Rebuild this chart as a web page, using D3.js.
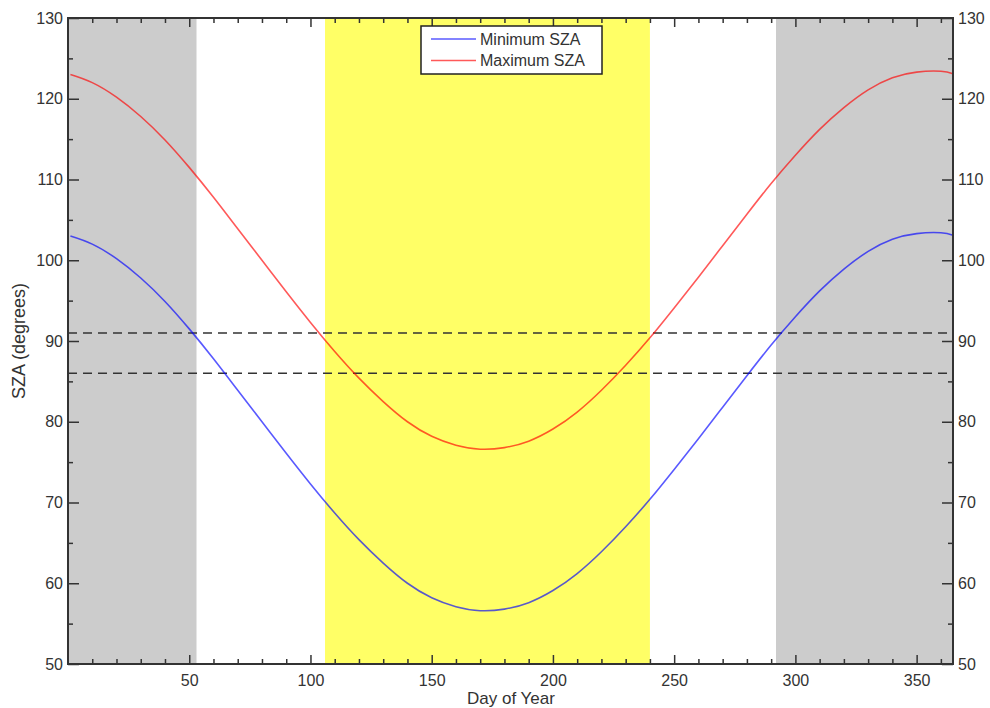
<!DOCTYPE html>
<html>
<head>
<meta charset="utf-8">
<script src="https://cdn.jsdelivr.net/npm/d3@7"></script>
<style>
  body { margin: 0; background: #fff; }
  svg text { font-family: "Liberation Sans", Arial, sans-serif; fill: #333; }
</style>
</head>
<body>
<svg id="chart" width="990" height="708"></svg>
<script>
// day of year samples
const days = [1, 10, 20, 30, 40, 50, 60, 70, 80, 90, 100, 110, 120, 130, 140, 150, 160, 170, 180,
  190, 200, 210, 220, 230, 240, 250, 260, 270, 280, 290, 300, 310, 320, 330, 340, 350, 360, 365]

// noon (minimum) solar zenith angle, degrees
const minSZA = [103.0, 102.0, 100.2, 97.8, 94.9, 91.5, 87.8, 83.9, 80.0, 76.1, 72.3, 68.7, 65.4, 62.5,
  60.0, 58.2, 57.1, 56.6, 56.8, 57.6, 59.1, 61.2, 63.9, 67.0, 70.4, 74.1, 77.9, 81.8, 85.7, 89.5,
  93.0, 96.2, 98.9, 101.1, 102.6, 103.3, 103.4, 103.1]

// midnight (maximum) solar zenith angle, degrees
const maxSZA = [123.0, 122.0, 120.2, 117.8, 114.9, 111.5, 107.8, 103.9, 100.0, 96.1, 92.3, 88.7, 85.4, 82.5,
  80.0, 78.2, 77.1, 76.6, 76.8, 77.6, 79.1, 81.2, 83.9, 87.0, 90.4, 94.1, 97.9, 101.8, 105.7, 109.5,
  113.0, 116.2, 118.9, 121.1, 122.6, 123.3, 123.4, 123.1]

// shaded periods [start day, end day]
const darkPeriods = [[0, 53], [292, 365]]
const lightPeriods = [[106, 240]]

// threshold lines
const thresholds = [91, 86]

const xTicks = [50, 100, 150, 200, 250, 300, 350]
const yTicks = [50, 60, 70, 80, 90, 100, 110, 120, 130]

const seriesNames = ['Minimum SZA', 'Maximum SZA']
const seriesColors = ['#0000ff', '#ff0000']

const pLeft = 68, pRight = 953, pTop = 18, pBottom = 664

const svg = d3.select('#chart')

const x = d3.scaleLinear().domain([0, 365]).range([pLeft, pRight])
const y = d3.scaleLinear().domain([50, 130]).range([pBottom, pTop])

// background bands
svg.selectAll('.dark')
    .data(darkPeriods)
    .enter()
    .append('rect')
    .attr('x', d => x(d[0]))
    .attr('y', pTop)
    .attr('width', d => x(d[1]) - x(d[0]))
    .attr('height', pBottom - pTop)
    .attr('fill', '#cccccc')

svg.selectAll('.light')
    .data(lightPeriods)
    .enter()
    .append('rect')
    .attr('x', d => x(d[0]))
    .attr('y', pTop)
    .attr('width', d => x(d[1]) - x(d[0]))
    .attr('height', pBottom - pTop)
    .attr('fill', '#ffff66')

// dashed thresholds
svg.selectAll('.thresh')
    .data(thresholds)
    .enter()
    .append('line')
    .attr('x1', pLeft)
    .attr('x2', pRight)
    .attr('y1', d => y(d))
    .attr('y2', d => y(d))
    .attr('stroke', '#333')
    .attr('stroke-width', 1.5)
    .attr('stroke-dasharray', '9,6')

// curves
const line = d3.line()
    .x((d, i) => x(days[i]))
    .y(d => y(d))
    .curve(d3.curveNatural)

;[minSZA, maxSZA].forEach((vals, i) => {
    svg.append('path')
        .datum(vals)
        .attr('d', line)
        .attr('fill', 'none')
        .attr('stroke', seriesColors[i])
        .attr('stroke-opacity', 0.65)
        .attr('stroke-width', 1.6)
})

// axes: ticks point inward on all four sides
const minorX = d3.range(10, 365, 10).filter(d => d % 50 !== 0)
const minorY = d3.range(55, 130, 10)

function styleAxis(g) {
    g.select('.domain').remove()
    g.selectAll('line').attr('stroke', '#333').attr('stroke-width', 1.5)
    g.selectAll('text').style('font-size', '16px').attr('fill', '#333')
}

svg.append('g')
    .attr('transform', `translate(0,${pBottom})`)
    .call(d3.axisBottom(x).tickValues(xTicks).tickSize(-9).tickPadding(11).tickFormat(d3.format('d')))
    .call(styleAxis)
svg.append('g')
    .attr('transform', `translate(0,${pBottom})`)
    .call(d3.axisBottom(x).tickValues(minorX).tickSize(-5).tickFormat(''))
    .call(styleAxis)
svg.append('g')
    .attr('transform', `translate(0,${pTop})`)
    .call(d3.axisTop(x).tickValues(xTicks).tickSize(-9).tickFormat(''))
    .call(styleAxis)
svg.append('g')
    .attr('transform', `translate(0,${pTop})`)
    .call(d3.axisTop(x).tickValues(minorX).tickSize(-5).tickFormat(''))
    .call(styleAxis)

svg.append('g')
    .attr('transform', `translate(${pLeft},0)`)
    .call(d3.axisLeft(y).tickValues(yTicks).tickSize(-11).tickFormat(d3.format('d')))
    .call(styleAxis)
    .selectAll('text').attr('x', -5)
svg.append('g')
    .attr('transform', `translate(${pLeft},0)`)
    .call(d3.axisLeft(y).tickValues(minorY).tickSize(-5).tickFormat(''))
    .call(styleAxis)
svg.append('g')
    .attr('transform', `translate(${pRight},0)`)
    .call(d3.axisRight(y).tickValues(yTicks).tickSize(-11).tickFormat(d3.format('d')))
    .call(styleAxis)
    .selectAll('text').attr('x', 5)
svg.append('g')
    .attr('transform', `translate(${pRight},0)`)
    .call(d3.axisRight(y).tickValues(minorY).tickSize(-5).tickFormat(''))
    .call(styleAxis)

// frame
svg.append('rect')
    .attr('x', pLeft)
    .attr('y', pTop)
    .attr('width', pRight - pLeft)
    .attr('height', pBottom - pTop)
    .attr('fill', 'none')
    .attr('stroke', '#333')
    .attr('stroke-width', 2)

// axis titles
svg.append('text')
    .attr('x', 511)
    .attr('y', 704)
    .attr('text-anchor', 'middle')
    .style('font-size', '17px')
    .text('Day of Year')

svg.append('text')
    .attr('transform', 'translate(25,341) rotate(-90)')
    .attr('text-anchor', 'middle')
    .style('font-size', '18px')
    .text('SZA (degrees)')

// legend
const legend = svg.append('g')
legend.append('rect')
    .attr('x', 421)
    .attr('y', 26)
    .attr('width', 181)
    .attr('height', 48)
    .attr('fill', '#fff')
    .attr('stroke', '#222')
    .attr('stroke-width', 1.5)

seriesNames.forEach((name, i) => {
    const ly = 39 + i * 21.5
    legend.append('line')
        .attr('x1', 431)
        .attr('x2', 476)
        .attr('y1', ly)
        .attr('y2', ly)
        .attr('stroke', seriesColors[i])
        .attr('stroke-opacity', 0.65)
        .attr('stroke-width', 1.6)
    legend.append('text')
        .attr('x', 480)
        .attr('y', ly + 5.5)
        .style('font-size', '16px')
        .text(name)
})
</script>
</body>
</html>
